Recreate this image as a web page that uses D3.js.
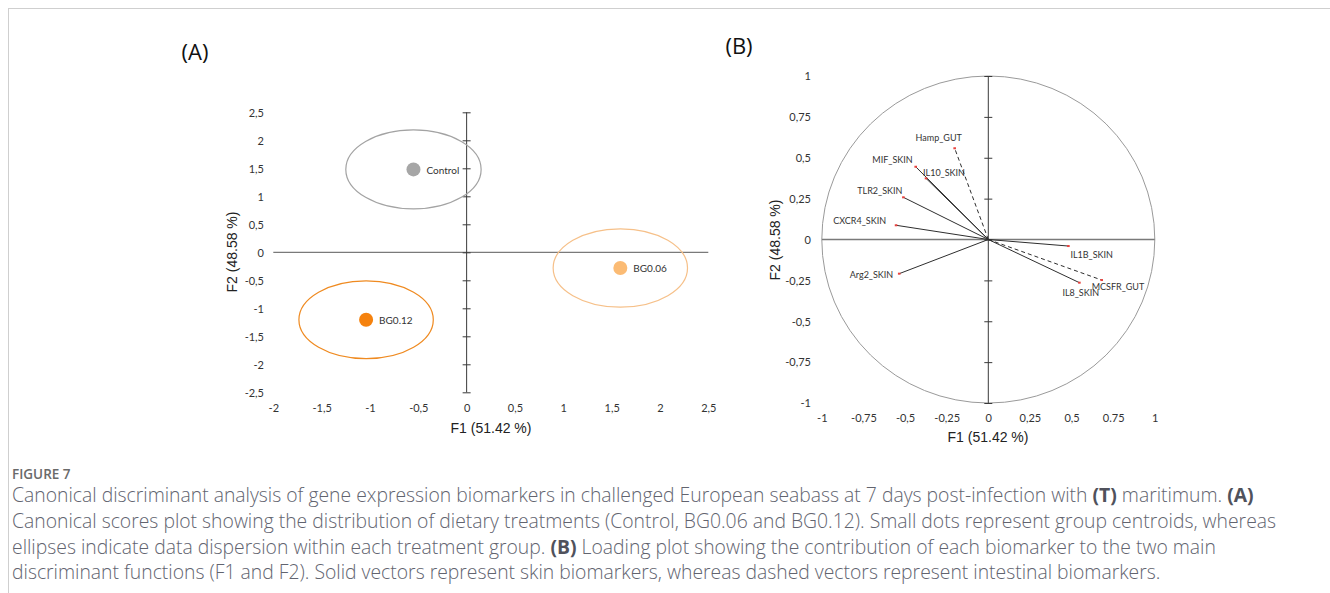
<!DOCTYPE html>
<html>
<head>
<meta charset="utf-8">
<script src="https://cdn.jsdelivr.net/npm/d3@7"></script>
<style>
  html, body { margin: 0; padding: 0; background: #ffffff; }
  svg { display: block; }
</style>
</head>
<body>
<svg id="chart" width="1330" height="593"></svg>
<script>
// ---------------- DATA ----------------
// Panel A: group centroids (canonical scores) and dispersion ellipse radii
const groups = ["Control", "BG0.06", "BG0.12"];
const groupF1 = [-0.55, 1.59, -1.04];
const groupF2 = [1.48, -0.28, -1.205];
const groupRadiusF1 = [0.70, 0.695, 0.695];
const groupRadiusF2 = [0.705, 0.70, 0.695];

// Panel A tick values / labels
const aXTickValues = [-2, -1.5, -1, -0.5, 0, 0.5, 1, 1.5, 2, 2.5];
const aXTickLabels = ["-2", "-1,5", "-1", "-0,5", "0", "0,5", "1", "1,5", "2", "2,5"];
const aYTickValues = [2.5, 2, 1.5, 1, 0.5, 0, -0.5, -1, -1.5, -2, -2.5];
const aYTickLabels = ["2,5", "2", "1,5", "1", "0,5", "0", "-0,5", "-1", "-1,5", "-2", "-2,5"];

// Panel B: biomarker loadings
const markers = ["Hamp_GUT", "MIF_SKIN", "IL10_SKIN", "TLR2_SKIN", "CXCR4_SKIN", "Arg2_SKIN", "IL1B_SKIN", "IL8_SKIN", "MCSFR_GUT"];
const markerF1 = [-0.202, -0.436, -0.374, -0.510, -0.554, -0.535, 0.481, 0.547, 0.681];
const markerF2 = [0.558, 0.445, 0.374, 0.258, 0.087, -0.209, -0.040, -0.264, -0.248];

// Panel B tick values / labels
const bXTickValues = [-1, -0.75, -0.5, -0.25, 0, 0.25, 0.5, 0.75, 1];
const bXTickLabels = ["-1", "-0,75", "-0,5", "-0,25", "0", "0,25", "0,5", "0.75", "1"];
const bYTickValues = [1, 0.75, 0.5, 0.25, 0, -0.25, -0.5, -0.75, -1];
const bYTickLabels = ["1", "0,75", "0,5", "0,25", "0", "-0,25", "-0,5", "-0,75", "-1"];

const xTitle = "F1 (51.42 %)";
const yTitle = "F2 (48.58 %)";

const captionHead = "FIGURE 7";
const captionLines = [
  [["Canonical discriminant analysis of gene expression biomarkers in challenged European seabass at 7 days post-infection with ", false], ["(T)", true], [" maritimum. ", false], ["(A)", true]],
  [["Canonical scores plot showing the distribution of dietary treatments (Control, BG0.06 and BG0.12). Small dots represent group centroids, whereas", false]],
  [["ellipses indicate data dispersion within each treatment group. ", false], ["(B)", true], [" Loading plot showing the contribution of each biomarker to the two main", false]],
  [["discriminant functions (F1 and F2). Solid vectors represent skin biomarkers, whereas dashed vectors represent intestinal biomarkers.", false]]
];

// ---------------- STYLE / LAYOUT ----------------
const groupDotColor = ["#a6a6a6", "#fbbb74", "#f5820e"];
const groupRingColor = ["#a3a3a3", "#f6c089", "#ef8a20"];
const tickFont = "Lato, 'Open Sans', sans-serif";
const titleFont = "'Liberation Sans', Arial, sans-serif";

// label placement for loadings (pixel offsets from vector tip)
const labelPlace = {
  "Hamp_GUT":   {dx: -16, dy: -11, anchor: "middle"},
  "MIF_SKIN":   {dx: -3,  dy: -7,  anchor: "end"},
  "IL10_SKIN":  {dx: -3,  dy: -6,  anchor: "start"},
  "TLR2_SKIN":  {dx: -1,  dy: -6.5,anchor: "end"},
  "CXCR4_SKIN": {dx: -10, dy: -5,  anchor: "end"},
  "Arg2_SKIN":  {dx: -6,  dy: 1,   anchor: "end"},
  "IL1B_SKIN":  {dx: 2,   dy: 8,   anchor: "start"},
  "IL8_SKIN":   {dx: -17, dy: 10,  anchor: "start"},
  "MCSFR_GUT":  {dx: -10, dy: 6,   anchor: "start"}
};

const svg = d3.select("#chart");

// Frame lines
svg.append("line").attr("x1", 8).attr("x2", 1330).attr("y1", 8.5).attr("y2", 8.5)
  .attr("stroke", "#cfcfcf").attr("stroke-width", 1);
svg.append("line").attr("x1", 8.5).attr("x2", 8.5).attr("y1", 8).attr("y2", 593)
  .attr("stroke", "#cfcfcf").attr("stroke-width", 1);

// ---------------- PANEL A ----------------
const ax = d3.scaleLinear().domain([-2, 2.5]).range([273.3, 708.3]);
const ay = d3.scaleLinear().domain([-2.5, 2.5]).range([392.3, 112.3]);
const A = svg.append("g");

A.append("text").attr("x", 195).attr("y", 51).attr("text-anchor", "middle")
  .attr("dominant-baseline", "central").attr("font-family", "'Open Sans', sans-serif")
  .attr("font-size", 22).attr("fill", "#111").text("(A)");

// horizontal axis line (no ticks)
A.append("line").attr("x1", ax(-2)).attr("x2", ax(2.5)).attr("y1", ay(0)).attr("y2", ay(0))
  .attr("stroke", "#7a7a7a").attr("stroke-width", 1.3);
// vertical axis line with crossing ticks
A.append("line").attr("x1", ax(0)).attr("x2", ax(0)).attr("y1", ay(2.5)).attr("y2", ay(-2.5))
  .attr("stroke", "#3a3a3a").attr("stroke-width", 1);
A.append("g").attr("transform", `translate(${ax(0) - 4},0)`)
  .call(d3.axisRight(ay).tickValues(aYTickValues).tickSize(8).tickFormat(""))
  .call(g => g.select(".domain").remove())
  .call(g => g.selectAll("line").attr("stroke", "#3a3a3a"));

// tick labels
A.append("g").attr("transform", "translate(264,0)")
  .call(d3.axisLeft(ay).tickValues(aYTickValues).tickSize(0).tickPadding(0)
    .tickFormat((d, i) => aYTickLabels[i]))
  .call(g => g.select(".domain").remove())
  .call(g => g.selectAll("text").attr("x", 0).attr("dy", "0.35em")
    .attr("font-family", tickFont).attr("font-size", 11).attr("fill", "#333"));
A.append("g").attr("transform", "translate(0,408)")
  .call(d3.axisBottom(ax).tickValues(aXTickValues).tickSize(0).tickPadding(0)
    .tickFormat((d, i) => aXTickLabels[i]))
  .call(g => g.select(".domain").remove())
  .call(g => g.selectAll("text").attr("y", 0).attr("dy", "0.35em")
    .attr("font-family", tickFont).attr("font-size", 11).attr("fill", "#333"));

// axis titles
A.append("text").attr("x", 491).attr("y", 428).attr("text-anchor", "middle")
  .attr("dominant-baseline", "central").attr("font-family", titleFont)
  .attr("font-size", 14).attr("fill", "#222").text(xTitle);
A.append("text").attr("transform", "translate(232,252) rotate(-90)").attr("text-anchor", "middle")
  .attr("dominant-baseline", "central").attr("font-family", titleFont)
  .attr("font-size", 14).attr("fill", "#222").text(yTitle);

// ellipses, centroids, labels
const gIdx = d3.range(groups.length);
A.selectAll("ellipse.ring").data(gIdx).join("ellipse").attr("class", "ring")
  .attr("cx", i => ax(groupF1[i])).attr("cy", i => ay(groupF2[i]))
  .attr("rx", i => ax(groupRadiusF1[i]) - ax(0))
  .attr("ry", i => ay(0) - ay(groupRadiusF2[i]))
  .attr("fill", "none").attr("stroke", i => groupRingColor[i]).attr("stroke-width", 1.2);
A.selectAll("circle.dot").data(gIdx).join("circle").attr("class", "dot")
  .attr("cx", i => ax(groupF1[i])).attr("cy", i => ay(groupF2[i])).attr("r", 7)
  .attr("fill", i => groupDotColor[i]);
A.selectAll("text.glab").data(gIdx).join("text").attr("class", "glab")
  .attr("x", i => ax(groupF1[i]) + 13).attr("y", i => ay(groupF2[i]) + 0.5)
  .attr("dominant-baseline", "central").attr("font-family", tickFont)
  .attr("font-size", 10).attr("fill", "#333").text(i => groups[i]);

// ---------------- PANEL B ----------------
const bx = d3.scaleLinear().domain([-1, 1]).range([821.8, 1154.8]);
const by = d3.scaleLinear().domain([-1, 1]).range([403, 76]);
const B = svg.append("g");

B.append("text").attr("x", 739).attr("y", 45).attr("text-anchor", "middle")
  .attr("dominant-baseline", "central").attr("font-family", "'Open Sans', sans-serif")
  .attr("font-size", 22).attr("fill", "#111").text("(B)");

// correlation circle
B.append("ellipse").attr("cx", bx(0)).attr("cy", by(0))
  .attr("rx", bx(1) - bx(0)).attr("ry", by(0) - by(1))
  .attr("fill", "none").attr("stroke", "#9a9a9a").attr("stroke-width", 1);

// axes
B.append("line").attr("x1", bx(-1)).attr("x2", bx(1)).attr("y1", by(0)).attr("y2", by(0))
  .attr("stroke", "#7a7a7a").attr("stroke-width", 1.3);
B.append("line").attr("x1", bx(0)).attr("x2", bx(0)).attr("y1", by(1)).attr("y2", by(-1))
  .attr("stroke", "#3a3a3a").attr("stroke-width", 1);
B.append("g").attr("transform", `translate(${bx(0) - 4},0)`)
  .call(d3.axisRight(by).tickValues(bYTickValues).tickSize(8).tickFormat(""))
  .call(g => g.select(".domain").remove())
  .call(g => g.selectAll("line").attr("stroke", "#3a3a3a"));

B.append("g").attr("transform", "translate(811,0)")
  .call(d3.axisLeft(by).tickValues(bYTickValues).tickSize(0).tickPadding(0)
    .tickFormat((d, i) => bYTickLabels[i]))
  .call(g => g.select(".domain").remove())
  .call(g => g.selectAll("text").attr("x", 0).attr("dy", "0.35em")
    .attr("font-family", tickFont).attr("font-size", 11).attr("fill", "#333"));
B.append("g").attr("transform", "translate(0,418.5)")
  .call(d3.axisBottom(bx).tickValues(bXTickValues).tickSize(0).tickPadding(0)
    .tickFormat((d, i) => bXTickLabels[i]))
  .call(g => g.select(".domain").remove())
  .call(g => g.selectAll("text").attr("y", 0).attr("dy", "0.35em")
    .attr("font-family", tickFont).attr("font-size", 11).attr("fill", "#333"));

B.append("text").attr("x", 988).attr("y", 437).attr("text-anchor", "middle")
  .attr("dominant-baseline", "central").attr("font-family", titleFont)
  .attr("font-size", 14).attr("fill", "#222").text(xTitle);
B.append("text").attr("transform", "translate(775,240) rotate(-90)").attr("text-anchor", "middle")
  .attr("dominant-baseline", "central").attr("font-family", titleFont)
  .attr("font-size", 14).attr("fill", "#222").text(yTitle);

// vectors
const mIdx = d3.range(markers.length);
const isGut = i => /_GUT$/.test(markers[i]);
B.selectAll("line.vec").data(mIdx).join("line").attr("class", "vec")
  .attr("x1", bx(0)).attr("y1", by(0))
  .attr("x2", i => bx(markerF1[i])).attr("y2", i => by(markerF2[i]))
  .attr("stroke", "#2e2e2e").attr("stroke-width", 1)
  .attr("stroke-dasharray", i => isGut(i) ? "4,3" : null);
B.selectAll("rect.tip").data(mIdx).join("rect").attr("class", "tip")
  .attr("x", i => bx(markerF1[i]) - 1.3).attr("y", i => by(markerF2[i]) - 1)
  .attr("width", 2.6).attr("height", 2)
  .attr("fill", "#e8433f");
B.selectAll("text.mlab").data(mIdx).join("text").attr("class", "mlab")
  .attr("x", i => bx(markerF1[i]) + labelPlace[markers[i]].dx)
  .attr("y", i => by(markerF2[i]) + labelPlace[markers[i]].dy)
  .attr("text-anchor", i => labelPlace[markers[i]].anchor)
  .attr("dominant-baseline", "central").attr("font-family", tickFont)
  .attr("font-size", 9).attr("fill", "#333").text(i => markers[i]);

// ---------------- CAPTION ----------------
svg.append("text").attr("x", 12).attr("y", 474).attr("dominant-baseline", "central")
  .attr("font-family", "'Open Sans', sans-serif").attr("font-weight", 600)
  .attr("font-size", 13.5).attr("fill", "#6a6a6a").text(captionHead);

const capG = svg.append("g");
const capTexts = captionLines.map((parts, li) => {
  const t = capG.append("text").attr("x", 12).attr("y", 494 + li * 25.8)
    .attr("dominant-baseline", "central").attr("font-family", "'Open Sans', sans-serif")
    .attr("font-weight", 300)
    .attr("font-size", 16).attr("fill", "#62646f");
  parts.forEach(([s, bold]) => {
    t.append("tspan").attr("font-weight", bold ? 700 : 300)
      .attr("fill", bold ? "#50525c" : null).text(s);
  });
  return t;
});
// fit font size so that line 2 spans the measured width
const w2 = capTexts[1].node().getComputedTextLength();
const fs = 16 * 1265 / w2;
capTexts.forEach(t => t.attr("font-size", fs));
</script>
</body>
</html>
